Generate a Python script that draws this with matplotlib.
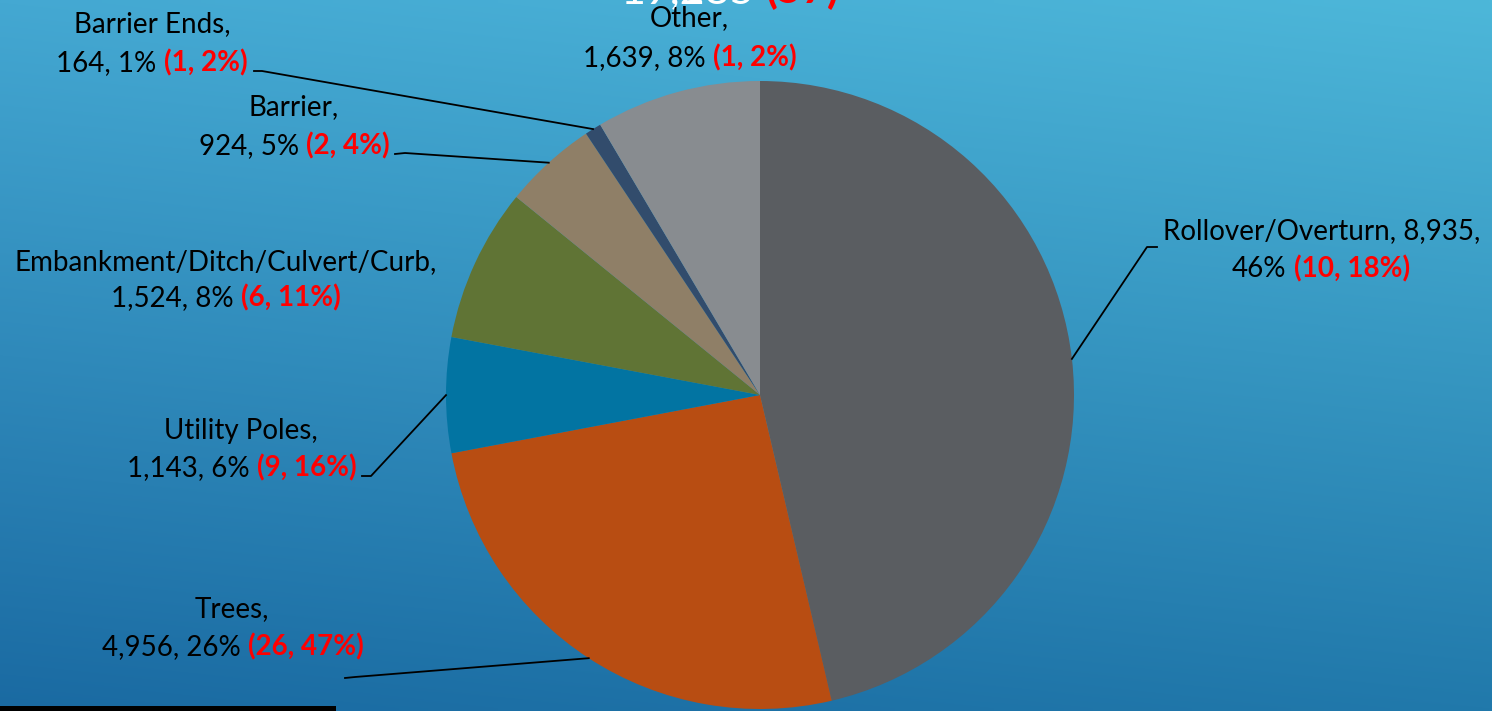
import matplotlib
matplotlib.use("Agg")
import matplotlib.pyplot as plt
import numpy as np
from matplotlib.lines import Line2D
from matplotlib.patches import Rectangle

# ---------------- data ----------------
categories = ["Rollover/Overturn", "Trees", "Utility Poles",
              "Embankment/Ditch/Culvert/Curb", "Barrier", "Barrier Ends", "Other"]
counts = [8935, 4956, 1143, 1524, 924, 164, 1639]
share_pct = [46, 26, 6, 8, 5, 1, 8]
fatal_counts = [10, 26, 9, 6, 2, 1, 1]
fatal_pct = [18, 47, 16, 11, 4, 2, 2]
title_total = "19,285"
title_fatal = "(57)"
colors = ["#5a5d61", "#b84d12", "#0274a2", "#607435", "#8f7f67", "#324c6c", "#888c90"]

# ---------------- figure ----------------
W, H = 1492, 711
fig = plt.figure(figsize=(W / 100, H / 100), dpi=100)
FONT = "Lato"
FS = 20

# background gradient
bg = fig.add_axes([0, 0, 1, 1], zorder=-10)
bg.axis("off")
ny, nx = 120, 240
u = np.linspace(0, 1, nx)[None, :, None]
v = np.linspace(0, 1, ny)[:, None, None]
def hx(c):
    c = c.lstrip("#")
    return np.array([int(c[i:i + 2], 16) / 255 for i in (0, 2, 4)])
c_tl, c_tr, c_bl, c_br = hx("#44a8d2"), hx("#4db7d9"), hx("#1a6aa2"), hx("#2179ab")
img = (c_tl * (1 - u) * (1 - v) + c_tr * u * (1 - v) + c_bl * (1 - u) * v + c_br * u * v)
bg.imshow(img, aspect="auto", extent=[0, 1, 0, 1], interpolation="bilinear")
bg.set_xlim(0, 1)
bg.set_ylim(0, 1)

def P(x, y):
    return x / W, 1 - y / H

# pie axes
cx, cy, r = 760, 395, 314
ax = fig.add_axes([(cx - r) / W, (H - cy - r) / H, 2 * r / W, 2 * r / H])
ax.set_facecolor("none")
wedges, _ = ax.pie(counts, colors=colors, startangle=90, counterclock=False,
                   radius=1, wedgeprops=dict(linewidth=0))
ax.set_xlim(-1, 1)
ax.set_ylim(-1, 1)
ax.set_aspect("equal")
ax.axis("off")

# bottom-left decoration bar
fig.add_artist(Rectangle(P(0, 711), 336 / W, 5.5 / H, transform=fig.transFigure,
                         facecolor="black", edgecolor="none"))

renderer = fig.canvas.get_renderer()

def text_width(s, size, weight):
    t = fig.text(0, 0, s, fontsize=size, fontweight=weight, family=FONT)
    w = t.get_window_extent(renderer).width
    t.remove()
    return w

def seg_line(xc, yb, segs, size=FS):
    """Draw a centered line made of (text, color, weight) segments; yb = baseline in px from top."""
    space = text_width("a a", size, "normal") - text_width("aa", size, "normal")
    widths = [text_width(s, size, w) for s, c, w in segs]
    total = sum(widths) + space * (len(segs) - 1)
    x = xc - total / 2
    for (s, c, w), wd in zip(segs, widths):
        fig.text(*P(x, yb), s, fontsize=size, fontweight=w, color=c, family=FONT,
                 ha="left", va="baseline")
        x += wd + space

def fmt(n):
    return f"{n:,}"

RED = "#ff0000"
i_roll, i_tree, i_pole, i_emb, i_bar, i_bend, i_oth = range(7)

def red(i):
    return (f"({fatal_counts[i]}, {fatal_pct[i]}%)", RED, "bold")

# title (mostly cut off at top)
seg_line(730, 3, [(title_total, "white", "normal"), (title_fatal, RED, "bold")], size=31)

# labels
seg_line(152, 32, [(f"{categories[i_bend]},", "black", "normal")])
seg_line(152, 71, [(f"{fmt(counts[i_bend])}, {share_pct[i_bend]}%", "black", "normal"), red(i_bend)])

seg_line(689, 26, [(f"{categories[i_oth]},", "black", "normal")])
seg_line(690, 66, [(f"{fmt(counts[i_oth])}, {share_pct[i_oth]}%", "black", "normal"), red(i_oth)])

seg_line(294, 115, [(f"{categories[i_bar]},", "black", "normal")])
seg_line(294, 154, [(f"{fmt(counts[i_bar])}, {share_pct[i_bar]}%", "black", "normal"), red(i_bar)])

seg_line(1322, 239, [(f"{categories[i_roll]}, {fmt(counts[i_roll])},", "black", "normal")])
seg_line(1321, 277, [(f"{share_pct[i_roll]}%", "black", "normal"), red(i_roll)])

seg_line(226, 270, [(f"{categories[i_emb]},", "black", "normal")])
seg_line(226, 306, [(f"{fmt(counts[i_emb])}, {share_pct[i_emb]}%", "black", "normal"), red(i_emb)])

seg_line(241, 439, [(f"{categories[i_pole]},", "black", "normal")])
seg_line(242, 476, [(f"{fmt(counts[i_pole])}, {share_pct[i_pole]}%", "black", "normal"), red(i_pole)])

seg_line(232, 617, [(f"{categories[i_tree]},", "black", "normal")])
seg_line(233, 655, [(f"{fmt(counts[i_tree])}, {share_pct[i_tree]}%", "black", "normal"), red(i_tree)])

# leader lines: from label to mid-angle point on wedge edge
def anchor(i):
    wdg = wedges[i]
    mid = np.deg2rad((wdg.theta1 + wdg.theta2) / 2)
    px, py = ax.transData.transform((np.cos(mid), np.sin(mid)))
    return px / fig.bbox.width, py / fig.bbox.height

def leader(i, pts):
    xs, ys = [], []
    for p in pts:
        fx, fy = P(*p)
        xs.append(fx); ys.append(fy)
    ax_, ay_ = anchor(i)
    xs.append(ax_); ys.append(ay_)
    fig.add_artist(Line2D(xs, ys, transform=fig.transFigure, color="black", lw=1.3))

leader(i_roll, [(1157, 247), (1147, 247)])
leader(i_bend, [(254, 71), (262, 71)])
leader(i_bar, [(395, 154), (405, 153)])
leader(i_pole, [(362, 476), (371, 476)])
leader(i_tree, [(345, 678), (355, 677)])

fig.savefig("out.png", dpi=100)
